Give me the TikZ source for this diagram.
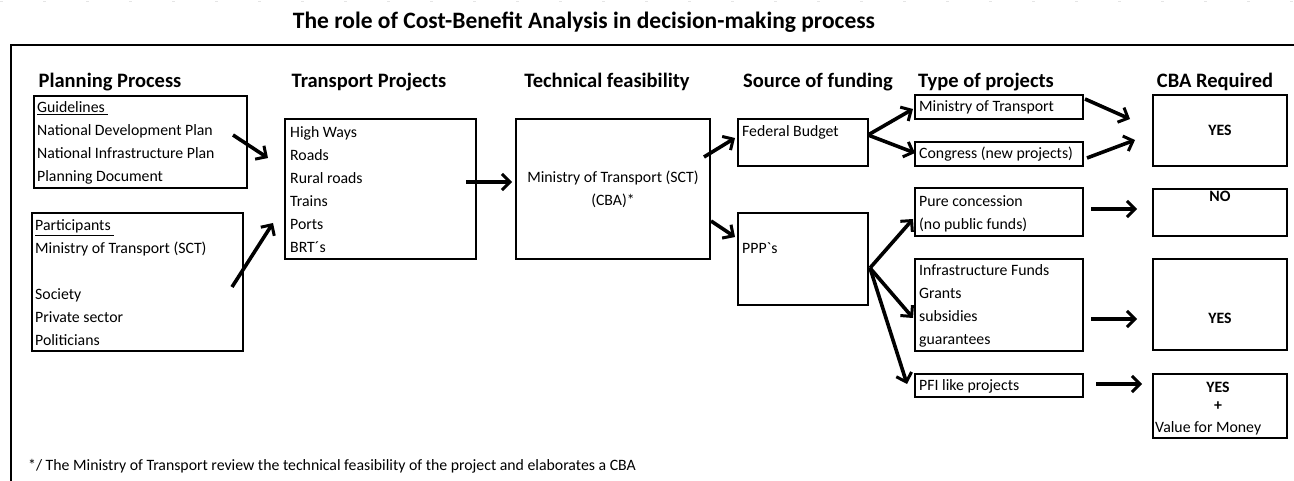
\documentclass[tikz,border=0pt]{standalone}
\usepackage{fontspec}
\setmainfont{Carlito}[Ligatures=TeXOff]
\usetikzlibrary{arrows.meta,calc}
\begin{document}
\begin{tikzpicture}[x=1pt,y=-1pt,
 box/.style={draw, line width=2.6pt, inner sep=0pt, outer sep=0pt},
 txt/.style={font=\fontsize{15.8}{23}\selectfont, inner sep=0pt, anchor=west, align=left},
 btxt/.style={font=\fontsize{15.8}{23}\selectfont\bfseries, inner sep=0pt},
 hd/.style={font=\fontsize{20.5}{22}\selectfont\bfseries, inner sep=0pt},
 arr/.style={line width=3.6pt, -{Straight Barb[length=8pt,width=16pt,line width=3pt]}}
]
\useasboundingbox (0,0) rectangle (1294,481);
% frame lines
\draw[gray!20, line width=0.6pt, dash pattern=on 3pt off 40pt] (0,1) -- (1294,1);
\draw[line width=1.8pt] (11,481) coordinate (fl) -- (11,45) coordinate (fc) -- (1294,45) coordinate (fr);
% title
\node[font=\fontsize{23.5}{25}\selectfont\bfseries, inner sep=0pt] (title) at (584,22) {The role of Cost-Benefit Analysis in decision-making process};
% headings
\node[hd] (h1) at (110,82) {Planning Process};
\node[hd] (h2) at (369,82) {Transport Projects};
\node[hd] (h3) at (607,82) {Technical feasibility};
\node[hd] (h4) at (818,82) {Source of funding};
\node[hd] (h5) at (986,82) {Type of projects};
\node[hd] (h6) at (1215,82) {CBA Required};
% boxes
\node[box, minimum width=213, minimum height=92] (gl) at (140.5,142) {};
\node[box, minimum width=211, minimum height=138] (pa) at (137.5,282) {};
\node[box, minimum width=191, minimum height=140] (tp) at (380.5,189) {};
\node[box, minimum width=194, minimum height=140, font=\fontsize{15.8}{23}\selectfont, align=center] (te) at (613,189) {Ministry of Transport (SCT)\\(CBA)*};
\node[box, minimum width=130, minimum height=47] (fb) at (803,142.5) {};
\node[box, minimum width=130, minimum height=92] (pp) at (803,259) {};
\node[box, minimum width=168, minimum height=24] (mt) at (999,107) {};
\node[box, minimum width=168, minimum height=24] (cg) at (999,154) {};
\node[box, minimum width=168, minimum height=48] (pc) at (999,212) {};
\node[box, minimum width=168, minimum height=92] (inf) at (999,305) {};
\node[box, minimum width=168, minimum height=23] (pfi) at (999,385.5) {};
\node[box, minimum width=134, minimum height=71, font=\fontsize{15.8}{23}\selectfont\bfseries] (y1) at (1220,130.5) {YES};
\node[box, minimum width=134, minimum height=47] (no) at (1220,212.5) {};
\node[box, minimum width=134, minimum height=91] (y2) at (1220,304.5) {};
\node[box, minimum width=134, minimum height=64] (y3) at (1220,406) {};
% box texts
\node[txt] (tgl) at (37,143) {\underline{Guidelines\ }\\National Development Plan\\National Infrastructure Plan\\Planning Document};
\node[txt] (tpa) at (35,283) {\underline{Participants\ }\\Ministry of Transport (SCT)\\[23pt]Society\\Private sector\\Politicians};
\node[txt] (ttp) at (290,190) {High Ways\\Roads\\Rural roads\\Trains\\Ports\\BRT´s};
\node[txt] (tfb) at (742,132) {Federal Budget};
\node[txt] (tpp) at (742,248) {PPP`s};
\node[txt] (tmt) at (919,107) {Ministry of Transport};
\node[txt] (tcg) at (919,154) {Congress (new projects)};
\node[txt] (tpc) at (919,213.5) {Pure concession\\(no public funds)};
\node[txt] (tinf) at (919,306) {Infrastructure Funds\\Grants\\subsidies\\guarantees};
\node[txt] (tpfi) at (919,386) {PFI like projects};
\node[btxt] (tno) at (1220,196) {NO};
\node[btxt] (ty2) at (1220,318) {YES};
\node[btxt] (ty3) at (1218,387) {YES};
\node[btxt] (tplus) at (1218,406) {+};
\node[txt] (tvm) at (1155,428) {Value for Money};
% footnote
\node[font=\fontsize{15.8}{18}\selectfont, inner sep=0pt, anchor=west] (fn) at (28,466) {*/ The Ministry of Transport review the technical feasibility of the project and elaborates a CBA};
% arrows
\draw[arr] ([shift={(-14,-7)}]gl.east) -- ([shift={(-17,-31)}]tp.west);
\draw[arr] ([shift={(-11,5)}]pa.east) -- ([shift={(-12,34)}]tp.west);
\draw[arr] ([shift={(-10,-7)}]tp.east) -- ([shift={(-4,-7)}]te.west);
\draw[arr] ([shift={(-6,-32)}]te.east) -- ([shift={(-3,-4.5)}]fb.west);
\draw[arr] ([shift={(1,32)}]te.east) -- ([shift={(-3,-22)}]pp.west);
\draw[arr] ([shift={(0,-7.5)}]fb.east) -- ([shift={(-2,2)}]mt.west);
\draw[arr] ([shift={(0,-7.5)}]fb.east) -- ([shift={(0,-1)}]cg.west);
\draw[arr] ([shift={(2,9)}]pp.east) -- ([shift={(-2,7)}]pc.west);
\draw[arr] ([shift={(2,9)}]pp.east) -- ([shift={(-2,13)}]inf.west);
\draw[arr] ([shift={(2,9)}]pp.east) -- ([shift={(-8,-1.5)}]pfi.west);
\draw[arr] ([shift={(2,-8)}]mt.east) -- ([shift={(-23,-11.5)}]y1.west);
\draw[arr] ([shift={(4,4)}]cg.east) -- ([shift={(-18,9.5)}]y1.west);
\draw[arr] ([shift={(8,-3)}]pc.east) -- ([shift={(-16,-3.5)}]no.west);
\draw[arr] ([shift={(8,14)}]inf.east) -- ([shift={(-16,14.5)}]y2.west);
\draw[arr] ([shift={(13,-1.5)}]pfi.east) -- ([shift={(-11,-22)}]y3.west);
\end{tikzpicture}
\end{document}
